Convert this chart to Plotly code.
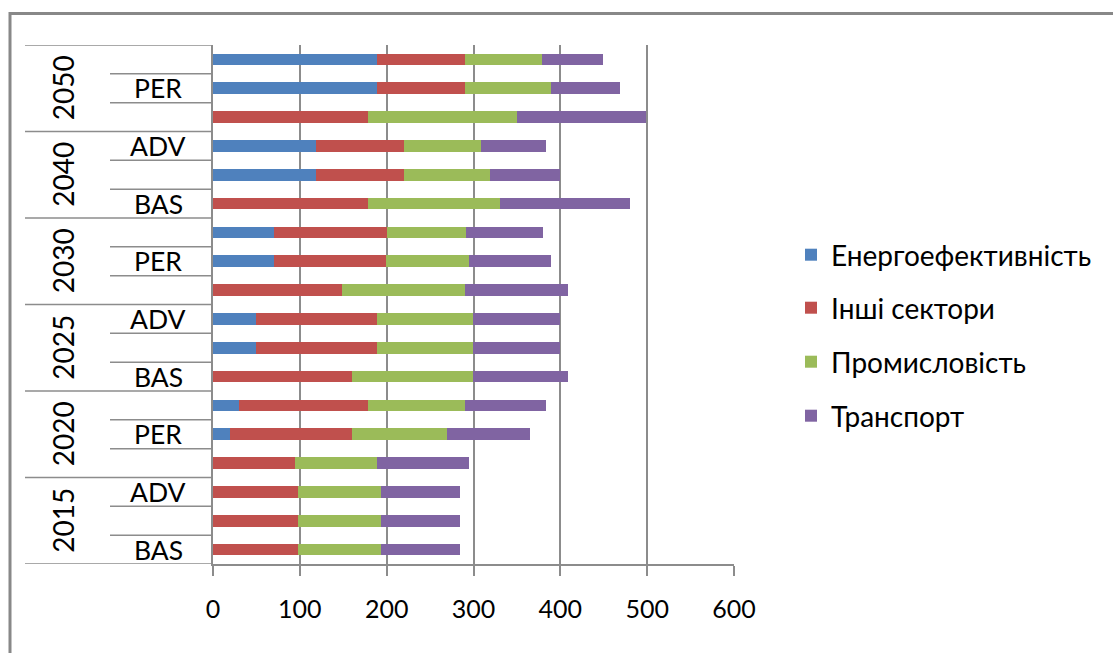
import plotly.graph_objects as go

# ---- data ----
years = ["2015", "2020", "2025", "2030", "2040", "2050"]
scenarios = ["BAS", "PER", "ADV"]
series_names = ["Енергоефективність", "Інші сектори", "Промисловість", "Транспорт"]
colors = ["#4F81BD", "#C0504D", "#9BBB59", "#8064A2"]

# values per row, order: year by year, scenarios BAS, PER, ADV
energy_eff = [0, 0, 0,   0, 20, 30,   0, 49, 49,   0, 70, 70,   0, 119, 119,   0, 189, 189]
other      = [98, 98, 98, 95, 140, 149, 160, 140, 140, 149, 129, 130, 179, 101, 101, 179, 101, 101]
industry   = [96, 96, 96, 94, 109, 111, 139, 110, 110, 141, 96, 91, 151, 99, 89, 171, 99, 89]
transport  = [91, 91, 91, 106, 96, 94, 110, 101, 101, 119, 94, 89, 150, 81, 75, 149, 80, 70]

shown_scen_labels = ["BAS", "", "ADV", "", "PER", "", "BAS", "", "ADV", "",
                     "PER", "", "BAS", "", "ADV", "", "PER", ""]

x_ticks = [0, 100, 200, 300, 400, 500, 600]

# ---- geometry ----
W, H = 1113, 653
L, R, T, B = 213, 734, 45, 564
PW, PH = R - L, B - T


def px(x):
    return (x - L) / PW


def py(y):
    return (B - y) / PH


FONT = "Lato"
FS_TICK = 25
FS_YEAR = 28
FS_SCEN = 26.5
FS_LEG = 28
GRAY = "#8c8c8c"

n_rows = len(years) * len(scenarios)
rows = list(range(n_rows))

fig = go.Figure()
series = [energy_eff, other, industry, transport]
legend_ids = ["legend", "legend2", "legend3", "legend4"]
legend_y_px = [255, 308, 362, 416]
for name, vals, col, lid in zip(series_names, series, colors, legend_ids):
    fig.add_trace(go.Bar(
        y=rows, x=vals, name=name, orientation="h",
        marker=dict(color=col, line=dict(width=0)),
        width=0.4, legend=lid,
    ))

layout_legends = {}
for lid, ly in zip(legend_ids, legend_y_px):
    layout_legends[lid] = dict(
        x=px(791), y=py(ly), xanchor="left", yanchor="middle",
        xref="paper", yref="paper",
        font=dict(family=FONT, size=FS_LEG, color="#000000"),
        bgcolor="rgba(0,0,0,0)", borderwidth=0,
    )

annotations = []
# year labels (rotated)
for gi, yr in enumerate(years):
    annotations.append(dict(
        x=px(63), y=gi * 3 + 1, xref="paper", yref="y",
        text=yr, textangle=-90, showarrow=False,
        font=dict(family=FONT, size=FS_YEAR, color="#000000"),
        xanchor="center", yanchor="middle",
    ))
# scenario labels (every other one shown, like the original)
for ri, lab in enumerate(shown_scen_labels):
    if lab:
        annotations.append(dict(
            x=px(158), y=ri, xref="paper", yref="y",
            text=lab, showarrow=False,
            font=dict(family=FONT, size=FS_SCEN, color="#000000"),
            xanchor="center", yanchor="middle",
        ))

shapes = []
# group separators
for gi in range(len(years) + 1):
    yb = gi * 3 - 0.5
    shapes.append(dict(type="line", xref="paper", yref="y",
                       x0=px(25), x1=0, y0=yb, y1=yb,
                       line=dict(color=GRAY, width=1.5)))
# scenario separators
for gi in range(len(years)):
    for k in (1, 2):
        yb = gi * 3 + k - 0.5
        shapes.append(dict(type="line", xref="paper", yref="y",
                           x0=px(110), x1=0, y0=yb, y1=yb,
                           line=dict(color=GRAY, width=1.5)))
# outer chart border
shapes.append(dict(type="rect", xref="paper", yref="paper",
                   x0=px(10), x1=px(1130), y0=py(670), y1=py(13.5),
                   line=dict(color="#888888", width=3)))

fig.update_layout(
    width=W, height=H,
    margin=dict(l=L, r=W - R, t=T, b=H - B, pad=0),
    paper_bgcolor="white", plot_bgcolor="white",
    barmode="stack",
    showlegend=True,
    annotations=annotations,
    shapes=shapes,
    **layout_legends,
)

fig.update_xaxes(
    range=[0, 600], tickvals=x_ticks, ticktext=[str(v) for v in x_ticks],
    showgrid=True, gridcolor=GRAY, gridwidth=1.5,
    zeroline=False, showline=True, linecolor=GRAY, linewidth=1.5,
    ticks="outside", ticklen=10, tickcolor=GRAY, tickwidth=1.5,
    tickfont=dict(family=FONT, size=FS_TICK, color="#000000"),
    ticklabelstandoff=12,
)
fig.update_yaxes(
    range=[-0.5, n_rows - 0.5], showticklabels=False, showgrid=False,
    zeroline=False, showline=True, linecolor=GRAY, linewidth=1.5, ticks="",
)

fig.write_html("out.html")
